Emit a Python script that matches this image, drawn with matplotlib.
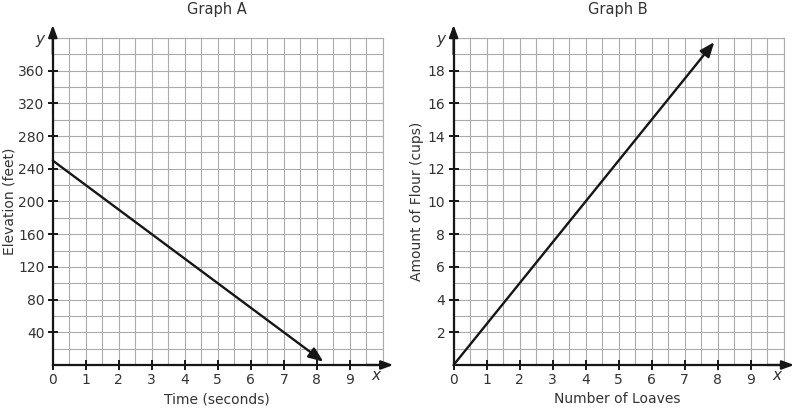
import matplotlib
matplotlib.use('Agg')
from matplotlib import pyplot as plt
from matplotlib.ticker import MultipleLocator

# Datos de las graficas.
tiempo = [0, 8.2]
elevacion = [250, 4]
panes = [0, 7.9]
harina = [0, 19.75]

ticks_x = list(range(0, 10))
ticks_a = list(range(40, 400, 40))
ticks_b = list(range(2, 20, 2))

plt.rcParams['font.family'] = ['DejaVu Sans']
TEXTO = '#333333'
NEGRO = '#161616'


def preparar(ax, ymax, yticks, paso_y, titulo, xlabel, ylabel, ylabel_x):
    ax.set_xlim(0, 10)
    ax.set_ylim(0, ymax)
    ax.xaxis.set_minor_locator(MultipleLocator(0.5))
    ax.yaxis.set_minor_locator(MultipleLocator(paso_y))
    ax.set_xticks(ticks_x)
    ax.set_yticks(yticks)
    ax.grid(which='both', color='#acacac', lw=0.8)
    ax.set_axisbelow(True)
    ax.tick_params(which='major', direction='inout', length=7, width=1.4,
                   color=NEGRO, labelsize=10, labelcolor=TEXTO, pad=2.5)
    ax.tick_params(which='minor', length=0)
    for lado in ('top', 'right'):
        ax.spines[lado].set_color('#acacac')
        ax.spines[lado].set_linewidth(0.8)
    for lado in ('left', 'bottom'):
        ax.spines[lado].set_color(NEGRO)
        ax.spines[lado].set_linewidth(1.6)
    # Flechas de los ejes.
    flecha = dict(arrowstyle='-|>,head_length=0.6,head_width=0.22',
                  color=NEGRO, lw=1.6, mutation_scale=12,
                  shrinkA=0, shrinkB=0)
    ax.annotate('', xy=(10.32, 0), xytext=(9.5, 0), arrowprops=flecha,
                annotation_clip=False)
    ax.annotate('', xy=(0, ymax * 1.04), xytext=(0, ymax * 0.95),
                arrowprops=flecha, annotation_clip=False)
    ax.text(9.8, -ymax * 0.033, 'x', style='italic', fontsize=11, color=TEXTO,
            ha='center', va='center', clip_on=False)
    ax.text(-0.4, ymax * 0.995, 'y', style='italic', fontsize=11, color=TEXTO,
            ha='center', va='center', clip_on=False)
    ax.text(0.497, 1.087, titulo, transform=ax.transAxes, fontsize=10.5,
            color=TEXTO, ha='center', va='center')
    ax.set_xlabel(xlabel, fontsize=10, color=TEXTO, va='center')
    ax.set_ylabel(ylabel, fontsize=10, color=TEXTO, va='center')
    ax.xaxis.set_label_coords(0.497, -0.105)
    ax.yaxis.set_label_coords(ylabel_x, 0.5)


fig = plt.figure(figsize=(8, 4.09), dpi=100)
ax_a = fig.add_axes([0.066, 0.1076, 0.4125, 0.7995])
ax_b = fig.add_axes([0.567, 0.1076, 0.4125, 0.7995])

preparar(ax_a, 400, ticks_a, 20, 'Graph A', 'Time (seconds)',
         'Elevation (feet)', -0.13)
preparar(ax_b, 20, ticks_b, 1, 'Graph B', 'Number of Loaves',
         'Amount of Flour (cups)', -0.11)

linea = dict(arrowstyle='-|>,head_length=0.55,head_width=0.22', color=NEGRO,
             lw=1.7, mutation_scale=16, shrinkA=0, shrinkB=0)
ax_a.annotate('', xy=(tiempo[-1], elevacion[-1]),
              xytext=(tiempo[0], elevacion[0]), arrowprops=linea,
              annotation_clip=False)
ax_b.annotate('', xy=(panes[-1], harina[-1]),
              xytext=(panes[0], harina[0]), arrowprops=linea,
              annotation_clip=False)

fig.savefig('out.png', dpi=100)
